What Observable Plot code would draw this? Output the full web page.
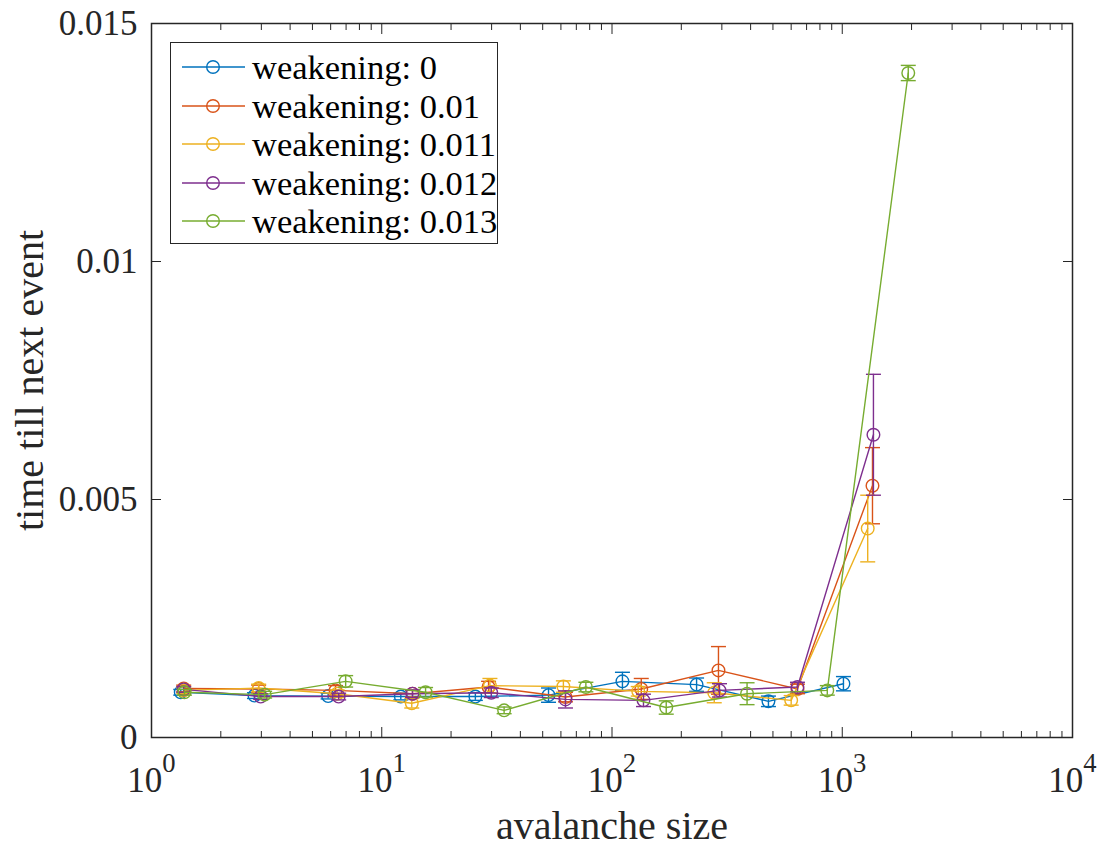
<!DOCTYPE html>
<html>
<head>
<meta charset="utf-8">
<script src="https://cdn.jsdelivr.net/npm/d3@7"></script>
<script src="https://cdn.jsdelivr.net/npm/@observablehq/plot@0.6"></script>
<style>
  body { margin: 0; background: #fff; }
  #chart { position: relative; width: 1099px; height: 846px; font-family: "Liberation Serif", "Times New Roman", serif; color: #262626; }
  #legend { position: absolute; left: 170px; top: 42px; width: 326px; height: 200px; border: 1px solid #262626; background: #fff; }
  #legend .row { position: absolute; left: 0; height: 38px; display: flex; align-items: center; }
  #legend .row svg { margin-left: 11px; margin-right: 7px; }
  #legend .row span { font-size: 34.5px; line-height: 38px; color: #000; white-space: nowrap; }
</style>
</head>
<body>
<div id="chart"><div id="legend"></div></div>
<script>
// Series names and MATLAB default line colours
const series = ["weakening: 0", "weakening: 0.01", "weakening: 0.011", "weakening: 0.012", "weakening: 0.013"];
const colors = ["#0072BD", "#D95319", "#EDB120", "#7E2F8E", "#77AC30"];

// weakening 0
const size0 = [1.34, 2.8, 5.85, 12.1, 25.5, 53, 111, 233, 478, 1012];
const time0 = [0.00095, 0.00088, 0.00087, 0.00086, 0.00086, 0.00089, 0.00118, 0.00111, 0.00076, 0.00113];
const err0  = [0.00006, 0.00006, 0.00006, 0.00007, 0.00008, 0.00015, 0.00019, 0.00014, 0.00011, 0.00015];

// weakening 0.01
const size1 = [1.38, 2.92, 6.3, 13.6, 29.1, 62.8, 134, 290, 639, 1353];
const time1 = [0.00103, 0.00102, 0.00099, 0.00092, 0.00106, 0.00085, 0.00102, 0.00141, 0.00102, 0.00529];
const err1  = [0.00007, 0.00008, 0.0001, 0.00007, 0.00012, 0.0001, 0.00022, 0.0005, 0.0001, 0.0008];

// weakening 0.011
const size2 = [1.38, 2.92, 6.4, 13.5, 29.5, 61.5, 130, 278, 600, 1290];
const time2 = [0.00099, 0.00104, 0.00092, 0.00072, 0.00109, 0.00107, 0.00097, 0.00094, 0.00078, 0.00439];
const err2  = [0.00007, 0.00008, 0.00008, 0.0001, 0.00015, 0.00012, 0.0001, 0.00021, 0.0001, 0.0007];

// weakening 0.012
const size3 = [1.38, 2.98, 6.5, 13.6, 29.9, 62.8, 137, 293, 639, 1366];
const time3 = [0.00101, 0.00086, 0.00086, 0.00092, 0.00094, 0.0008, 0.00078, 0.00099, 0.00106, 0.00636];
const err3  = [0.00006, 0.00006, 0.00007, 0.00008, 0.0001, 0.00018, 0.00013, 0.00014, 0.0001, 0.00127];

// weakening 0.013
const size4 = [1.39, 3.1, 6.97, 15.5, 34, 77, 172, 386, 861, 1935];
const time4 = [0.00095, 0.0009, 0.00118, 0.00095, 0.00057, 0.00106, 0.00063, 0.00092, 0.00099, 0.01396];
const err4  = [0.00006, 0.00007, 0.00012, 0.0001, 0.00007, 0.0001, 0.00014, 0.00023, 0.0001, 0.00016];

// Axis ticks and labels
const xMajor = [1, 10, 100, 1000, 10000];
const xMinor = [];
for (let k = 0; k < 4; k++) for (let m = 2; m <= 9; m++) xMinor.push(m * 10 ** k);
const yTicks = [0, 0.005, 0.01, 0.015];
const yTickLabels = ["0", "0.005", "0.01", "0.015"];
const xLabel = "avalanche size";
const yLabel = "time till next event";

const groups = [[size0, time0, err0], [size1, time1, err1], [size2, time2, err2], [size3, time3, err3], [size4, time4, err4]];
const rows = groups.flatMap(([xs, ys, es], k) => xs.map((x, i) => ({k, series: series[k], x, y: ys[i], e: es[i]})));

// horizontal cap for the error bars
const cap = {draw(ctx) { ctx.moveTo(-7.5, 0); ctx.lineTo(7.5, 0); }};
const sw = 1.4;

const seriesMarks = series.flatMap((s, k) => {
  const d = rows.filter(r => r.k === k);
  const c = colors[k];
  return [
    Plot.line(d, {x: "x", y: "y", stroke: c, strokeWidth: sw}),
    Plot.ruleX(d, {x: "x", y1: r => r.y - r.e, y2: r => r.y + r.e, stroke: c, strokeWidth: sw}),
    Plot.dot(d, {x: "x", y: r => r.y - r.e, symbol: cap, stroke: c, fill: "none", strokeWidth: sw}),
    Plot.dot(d, {x: "x", y: r => r.y + r.e, symbol: cap, stroke: c, fill: "none", strokeWidth: sw}),
    Plot.dot(d, {x: "x", y: "y", r: 6.3, stroke: c, fill: "none", strokeWidth: sw})
  ];
});

const axisColor = "#262626";
const noText = () => "";

const svg = Plot.plot({
  width: 1099,
  height: 846,
  marginLeft: 151,
  marginRight: 27,
  marginTop: 23,
  marginBottom: 109,
  style: {fontFamily: "Liberation Serif, Times New Roman, serif", background: "white", color: axisColor, overflow: "visible"},
  x: {type: "log", domain: [1, 10000]},
  y: {domain: [0, 0.015]},
  marks: [
    ...seriesMarks,
    Plot.frame({stroke: axisColor, strokeWidth: 1.5}),
    // inward ticks on all four sides
    Plot.axisX({anchor: "bottom", ticks: xMajor, tickSize: -10, tickFormat: noText, label: null, stroke: axisColor}),
    Plot.axisX({anchor: "top", ticks: xMajor, tickSize: -10, tickFormat: noText, label: null, stroke: axisColor}),
    Plot.axisX({anchor: "bottom", ticks: xMinor, tickSize: -6, tickFormat: noText, label: null, stroke: axisColor}),
    Plot.axisX({anchor: "top", ticks: xMinor, tickSize: -6, tickFormat: noText, label: null, stroke: axisColor}),
    Plot.axisY({anchor: "left", ticks: yTicks, tickSize: -10, tickFormat: noText, label: null, stroke: axisColor}),
    Plot.axisY({anchor: "right", ticks: yTicks, tickSize: -10, tickFormat: noText, label: null, stroke: axisColor}),
    // tick labels
    Plot.axisX({anchor: "bottom", ticks: xMajor, tickSize: 0, tickPadding: 30, fontSize: 35,
      tickFormat: d => "10^" + Math.round(Math.log10(d)), label: null, fill: axisColor}),
    Plot.axisY({anchor: "left", ticks: yTicks, tickSize: 0, tickPadding: 14, fontSize: 35,
      tickFormat: d => yTickLabels[yTicks.indexOf(d)], label: null, fill: axisColor}),
    // axis titles
    Plot.text([xLabel], {text: d => d, frameAnchor: "bottom", dy: 101, lineAnchor: "bottom", textAnchor: "middle", fontSize: 40, fill: axisColor}),
    Plot.text([yLabel], {text: d => d, frameAnchor: "left", dx: -109, rotate: -90, lineAnchor: "bottom", textAnchor: "middle", fontSize: 40, fill: axisColor})
  ]
});

// render "10^n" tick labels with a raised exponent
d3.select(svg).selectAll('g[aria-label="x-axis tick label"] text').each(function () {
  const t = this.textContent;
  if (!t.includes("^")) return;
  const [base, exp] = t.split("^");
  this.textContent = base;
  d3.select(this).append("tspan").attr("dy", -20).attr("font-size", "0.76em").text(exp);
});

const chart = document.getElementById("chart");
chart.insertBefore(svg, chart.firstChild);

// legend
const legend = d3.select("#legend");
series.forEach((s, k) => {
  const row = legend.append("div").attr("class", "row").style("top", (5 + 38.6 * k) + "px");
  const sv = row.append("svg").attr("width", 63).attr("height", 20);
  sv.append("line").attr("x1", 0).attr("x2", 63).attr("y1", 10).attr("y2", 10).attr("stroke", colors[k]).attr("stroke-width", sw);
  sv.append("circle").attr("cx", 31).attr("cy", 10).attr("r", 6.3).attr("fill", "none").attr("stroke", colors[k]).attr("stroke-width", sw);
  row.append("span").text(s);
});
</script>
</body>
</html>
